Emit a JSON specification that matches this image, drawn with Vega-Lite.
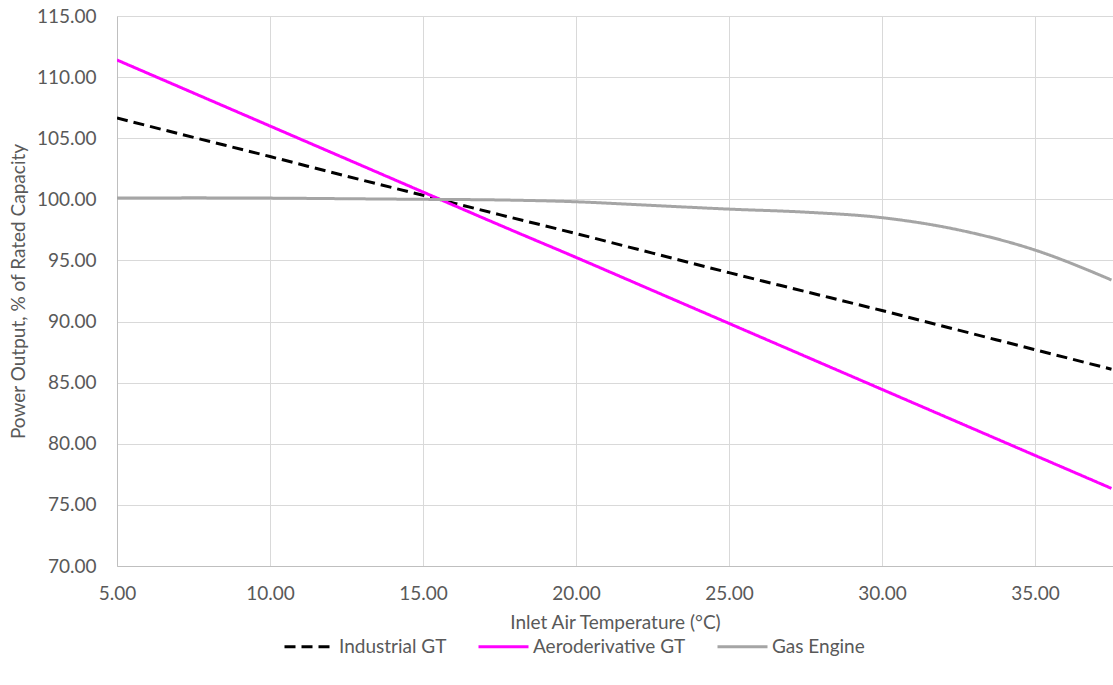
{
  "$schema": "https://vega.github.io/schema/vega-lite/v6.json",
  "width": 996,
  "height": 550,
  "autosize": {"type": "none"},
  "padding": {"left": 117, "top": 16, "right": 0, "bottom": 119},
  "background": "white",
  "config": {
    "font": "Lato",
    "view": {"stroke": null}
  },
  "data": {
    "values": [
      {"t": 5, "series": "Industrial GT", "v": 106.65},
      {"t": 7.5, "series": "Industrial GT", "v": 105.07},
      {"t": 10, "series": "Industrial GT", "v": 103.5},
      {"t": 12.5, "series": "Industrial GT", "v": 101.9},
      {"t": 15, "series": "Industrial GT", "v": 100.33},
      {"t": 17.5, "series": "Industrial GT", "v": 98.75},
      {"t": 20, "series": "Industrial GT", "v": 97.2},
      {"t": 22.5, "series": "Industrial GT", "v": 95.6},
      {"t": 25, "series": "Industrial GT", "v": 94.0},
      {"t": 27.5, "series": "Industrial GT", "v": 92.45},
      {"t": 30, "series": "Industrial GT", "v": 90.9},
      {"t": 32.5, "series": "Industrial GT", "v": 89.3},
      {"t": 35, "series": "Industrial GT", "v": 87.7},
      {"t": 37.5, "series": "Industrial GT", "v": 86.1},
      {"t": 5, "series": "Aeroderivative GT", "v": 111.4},
      {"t": 7.5, "series": "Aeroderivative GT", "v": 108.7},
      {"t": 10, "series": "Aeroderivative GT", "v": 106.0},
      {"t": 12.5, "series": "Aeroderivative GT", "v": 103.3},
      {"t": 15, "series": "Aeroderivative GT", "v": 100.6},
      {"t": 17.5, "series": "Aeroderivative GT", "v": 97.9},
      {"t": 20, "series": "Aeroderivative GT", "v": 95.25},
      {"t": 22.5, "series": "Aeroderivative GT", "v": 92.55},
      {"t": 25, "series": "Aeroderivative GT", "v": 89.85},
      {"t": 27.5, "series": "Aeroderivative GT", "v": 87.15},
      {"t": 30, "series": "Aeroderivative GT", "v": 84.45},
      {"t": 32.5, "series": "Aeroderivative GT", "v": 81.75},
      {"t": 35, "series": "Aeroderivative GT", "v": 79.05},
      {"t": 37.5, "series": "Aeroderivative GT", "v": 76.35},
      {"t": 5, "series": "Gas Engine", "v": 100.1},
      {"t": 7.5, "series": "Gas Engine", "v": 100.12},
      {"t": 10, "series": "Gas Engine", "v": 100.1},
      {"t": 12.5, "series": "Gas Engine", "v": 100.05},
      {"t": 15, "series": "Gas Engine", "v": 100.0},
      {"t": 17.5, "series": "Gas Engine", "v": 99.95},
      {"t": 20, "series": "Gas Engine", "v": 99.8},
      {"t": 22.5, "series": "Gas Engine", "v": 99.5},
      {"t": 25, "series": "Gas Engine", "v": 99.2},
      {"t": 27.5, "series": "Gas Engine", "v": 98.95},
      {"t": 30, "series": "Gas Engine", "v": 98.5},
      {"t": 32.5, "series": "Gas Engine", "v": 97.5},
      {"t": 35, "series": "Gas Engine", "v": 95.85},
      {"t": 37.5, "series": "Gas Engine", "v": 93.4}
    ]
  },
  "mark": {"type": "line", "interpolate": "monotone", "clip": true},
  "encoding": {
    "x": {
      "field": "t",
      "type": "quantitative",
      "scale": {"domain": [5, 37.55], "nice": false, "zero": false},
      "axis": {
        "values": [5, 10, 15, 20, 25, 30, 35],
        "format": ".2f",
        "title": "Inlet Air Temperature (°C)",
        "grid": true,
        "gridColor": "#d9d9d9",
        "domainColor": "#bfbfbf",
        "ticks": false,
        "labelFontSize": 19,
        "labelColor": "#595959",
        "labelPadding": 18,
        "labelFlush": false,
        "titleFontSize": 19,
        "titleFontWeight": "normal",
        "titleColor": "#595959",
        "titlePadding": 10
      }
    },
    "y": {
      "field": "v",
      "type": "quantitative",
      "scale": {"domain": [70, 115], "nice": false, "zero": false},
      "axis": {
        "values": [70, 75, 80, 85, 90, 95, 100, 105, 110, 115],
        "format": ".2f",
        "title": "Power Output, % of Rated Capacity",
        "grid": true,
        "gridColor": "#d9d9d9",
        "domainColor": "#bfbfbf",
        "ticks": false,
        "labelFontSize": 19,
        "labelColor": "#595959",
        "labelPadding": 21,
        "titleFontSize": 19,
        "titleFontWeight": "normal",
        "titleColor": "#595959",
        "titlePadding": 8
      }
    },
    "color": {
      "field": "series",
      "type": "nominal",
      "scale": {
        "domain": ["Industrial GT", "Aeroderivative GT", "Gas Engine"],
        "range": ["#000000", "#ff00ff", "#a5a5a5"]
      },
      "legend": {
        "title": null,
        "orient": "none",
        "direction": "horizontal",
        "legendX": 166,
        "legendY": 604,
        "symbolType": "stroke",
        "symbolSize": 2500,
        "labelFontSize": 19,
        "labelColor": "#595959",
        "labelOffset": 3,
        "columnPadding": 25
      }
    },
    "strokeDash": {
      "field": "series",
      "type": "nominal",
      "scale": {
        "domain": ["Industrial GT", "Aeroderivative GT", "Gas Engine"],
        "range": [[11, 6], [1, 0], [1, 0]]
      },
      "legend": {
        "title": null,
        "orient": "none",
        "direction": "horizontal",
        "legendX": 166,
        "legendY": 604,
        "symbolType": "stroke",
        "symbolSize": 2500,
        "labelFontSize": 19,
        "labelColor": "#595959",
        "labelOffset": 3,
        "columnPadding": 25
      }
    },
    "strokeWidth": {
      "field": "series",
      "type": "nominal",
      "scale": {
        "domain": ["Industrial GT", "Aeroderivative GT", "Gas Engine"],
        "range": [3, 3, 1.75]
      },
      "legend": {
        "title": null,
        "orient": "none",
        "direction": "horizontal",
        "legendX": 166,
        "legendY": 604,
        "symbolType": "stroke",
        "symbolSize": 2500,
        "labelFontSize": 19,
        "labelColor": "#595959",
        "labelOffset": 3,
        "columnPadding": 25
      }
    }
  }
}
